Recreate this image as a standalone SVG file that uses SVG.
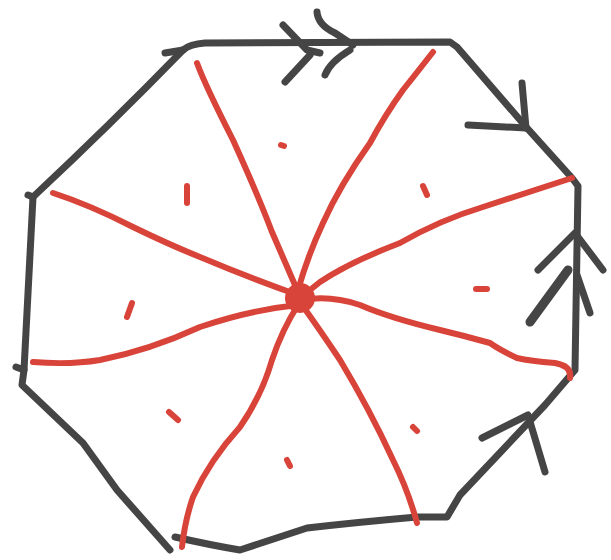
<svg xmlns="http://www.w3.org/2000/svg" width="611" height="560" viewBox="0 0 611 560">
<style>
.g{fill:none;stroke:#454545;stroke-width:7;stroke-linecap:round;stroke-linejoin:round}
.r{fill:none;stroke:#d9443a;stroke-width:6;stroke-linecap:round;stroke-linejoin:round}
</style>
<rect width="611" height="560" fill="#fff"/>
<g id="frame">
<path class="g" d="M33,197 Q110,125 183,50 Q190,44 205,43 L450,42 L457,47 L470,62 L527,128 L572,178 L578,186 L575,370 L545,405 L460,495 L447,517 L417,517 Q360,522 307,528 Q270,540 240,550 Q210,545 175,537"/>
<path class="g" d="M183,50 L165,53"/>
<path class="g" d="M33,197 L24,370 L22,385 L83,443 L117,490 L170,550"/>
<path class="g" d="M33,197 L28,195"/>
<path class="g" d="M24,370 L16,367"/>
</g>
<g id="connectors">
<g id="arrow-top">
<path class="g" d="M283,25 L307,50 L320,53"/>
<path class="g" d="M285,82 L310,55"/>
<path class="g" d="M317,12 Q318,25 335,33 L353,45"/>
<path class="g" d="M325,75 Q330,62 350,50"/>
</g>
<g id="arrow-upper-right">
<path class="g" d="M522,83 L526,128"/>
<path class="g" d="M468,125 L526,128"/>
</g>
<g id="arrow-right">
<path class="g" d="M538,270 L575,233 L603,270"/>
<path class="g" d="M530,322 L568,270" style="stroke-width:9"/>
<path class="g" d="M590,313 L577,275"/>
</g>
<g id="arrow-lower-right">
<path class="g" d="M482,438 L528,415 L545,472"/>
</g>
</g>
<g id="spokes">
<path class="r" d="M197,63 Q205,85 233,140 Q258,195 272,232 Q285,262 298,292"/>
<path class="r" d="M433,52 Q415,75 403,90 Q385,115 370,143 Q340,185 323,223 Q308,255 298,290"/>
<path class="r" d="M53,193 Q90,205 133,227 Q170,245 200,257 Q250,278 298,295"/>
<path class="r" d="M33,362 Q70,365 100,360 Q150,350 200,327 Q250,310 298,305"/>
<path class="r" d="M182,547 Q185,520 193,497 Q210,460 240,427 Q262,395 272,360 Q282,330 298,305"/>
<path class="r" d="M417,523 Q408,490 393,460 Q370,410 340,360 Q320,330 302,305"/>
<path class="r" d="M572,178 Q520,195 483,207 Q440,220 400,243 Q350,262 320,282 L300,298"/>
<path class="r" d="M570,378 Q572,366 555,363 Q530,361 517,358 Q500,350 490,343 Q465,336 440,330 Q390,318 360,305 Q330,295 302,300"/>
<circle cx="300" cy="298" r="15" fill="#d9443a"/>
</g>
<g id="marks">
<path class="r" d="M281,145 L284,146"/>
<path class="r" d="M187,186 L187,203"/>
<path class="r" d="M423,186 L427,195"/>
<path class="r" d="M476,289 L487,289"/>
<path class="r" d="M132,303 L127,317"/>
<path class="r" d="M169,412 L178,420"/>
<path class="r" d="M287,460 L290,466"/>
<path class="r" d="M413,427 L417,431"/>
</g>
</svg>
